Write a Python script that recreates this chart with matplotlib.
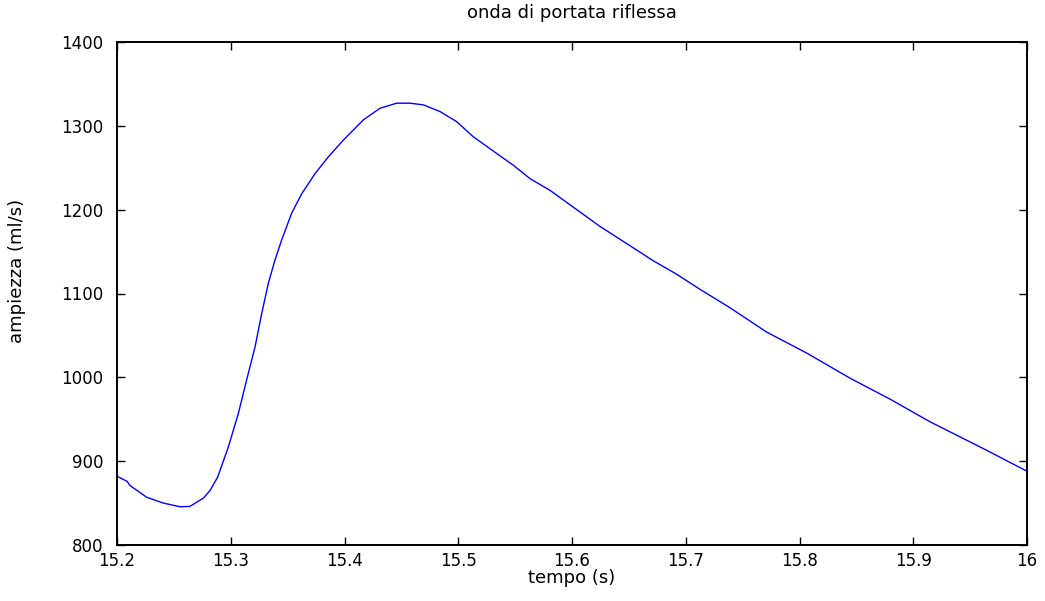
import matplotlib
matplotlib.use("Agg")
import matplotlib.pyplot as plt

plt.rcParams["font.family"    ] = ["DejaVu Sans"]
plt.rcParams["font.size"      ] = 12
plt.rcParams["xtick.direction"] = "in"
plt.rcParams["ytick.direction"] = "in"
plt.rcParams["xtick.top"      ] = True
plt.rcParams["ytick.right"    ] = True

# values
tempo = [15.2000, 15.2088, 15.2114, 15.2260, 15.2407, 15.2554, 15.2640,
         15.2760, 15.2818, 15.2885, 15.2979, 15.3067, 15.3140, 15.3213,
         15.3272, 15.3330, 15.3389, 15.3448, 15.3536, 15.3624, 15.3741,
         15.3858, 15.3990, 15.4165, 15.4312, 15.4459, 15.4576, 15.4693,
         15.4840, 15.4986, 15.5132, 15.5338, 15.5484, 15.5631, 15.5807,
         15.6246, 15.6510, 15.6715, 15.6920, 15.7125, 15.7389, 15.7711,
         15.8063, 15.8444, 15.8796, 15.9147, 15.9616, 16.0000]
ampiezza = [882, 876, 871, 857, 850, 845.6, 846,
            856, 865, 881, 917, 957, 997, 1036,
            1076, 1112, 1140, 1164, 1196, 1219, 1243,
            1263, 1283, 1307, 1321, 1327, 1327, 1325,
            1317, 1305, 1287, 1267, 1253, 1237, 1223,
            1180, 1157, 1139, 1123, 1105, 1083, 1054,
            1029, 999, 974, 947, 915, 888]

x_ticks = [15.2, 15.3, 15.4, 15.5, 15.6, 15.7, 15.8, 15.9, 16.0]
x_labels = ["15.2", "15.3", "15.4", "15.5", "15.6", "15.7", "15.8", "15.9", "16"]
y_ticks = [800, 900, 1000, 1100, 1200, 1300, 1400]


def main():
    fig = plt.figure(figsize=(10.45, 6.01), dpi=100)
    ax = fig.add_axes([117 / 1045, 1 - 545 / 601, 910 / 1045, 503 / 601])
    ax.plot(tempo, ampiezza, color="#0000ff", linewidth=1.0)
    ax.set_xlim(15.2, 16.0)
    ax.set_ylim(800, 1400)
    ax.set_xticks(x_ticks, x_labels)
    ax.set_yticks(y_ticks)
    ax.tick_params(length=6, width=1.0, labelsize=12)
    ax.tick_params(axis="x", pad=5)
    ax.tick_params(axis="y", pad=10)
    for sp in ax.spines.values():
        sp.set_linewidth(1.4)
    ax.set_title("onda di portata riflessa", fontsize=13, pad=17)
    ax.set_xlabel("tempo (s)", fontsize=13)
    ax.set_ylabel("ampiezza (ml/s)", fontsize=13)
    ax.xaxis.set_label_coords(0.5, -0.047)
    ax.yaxis.set_label_coords(-0.1, 0.545)
    fig.savefig("out.png", dpi=100)


if __name__ == "__main__":
    main()
